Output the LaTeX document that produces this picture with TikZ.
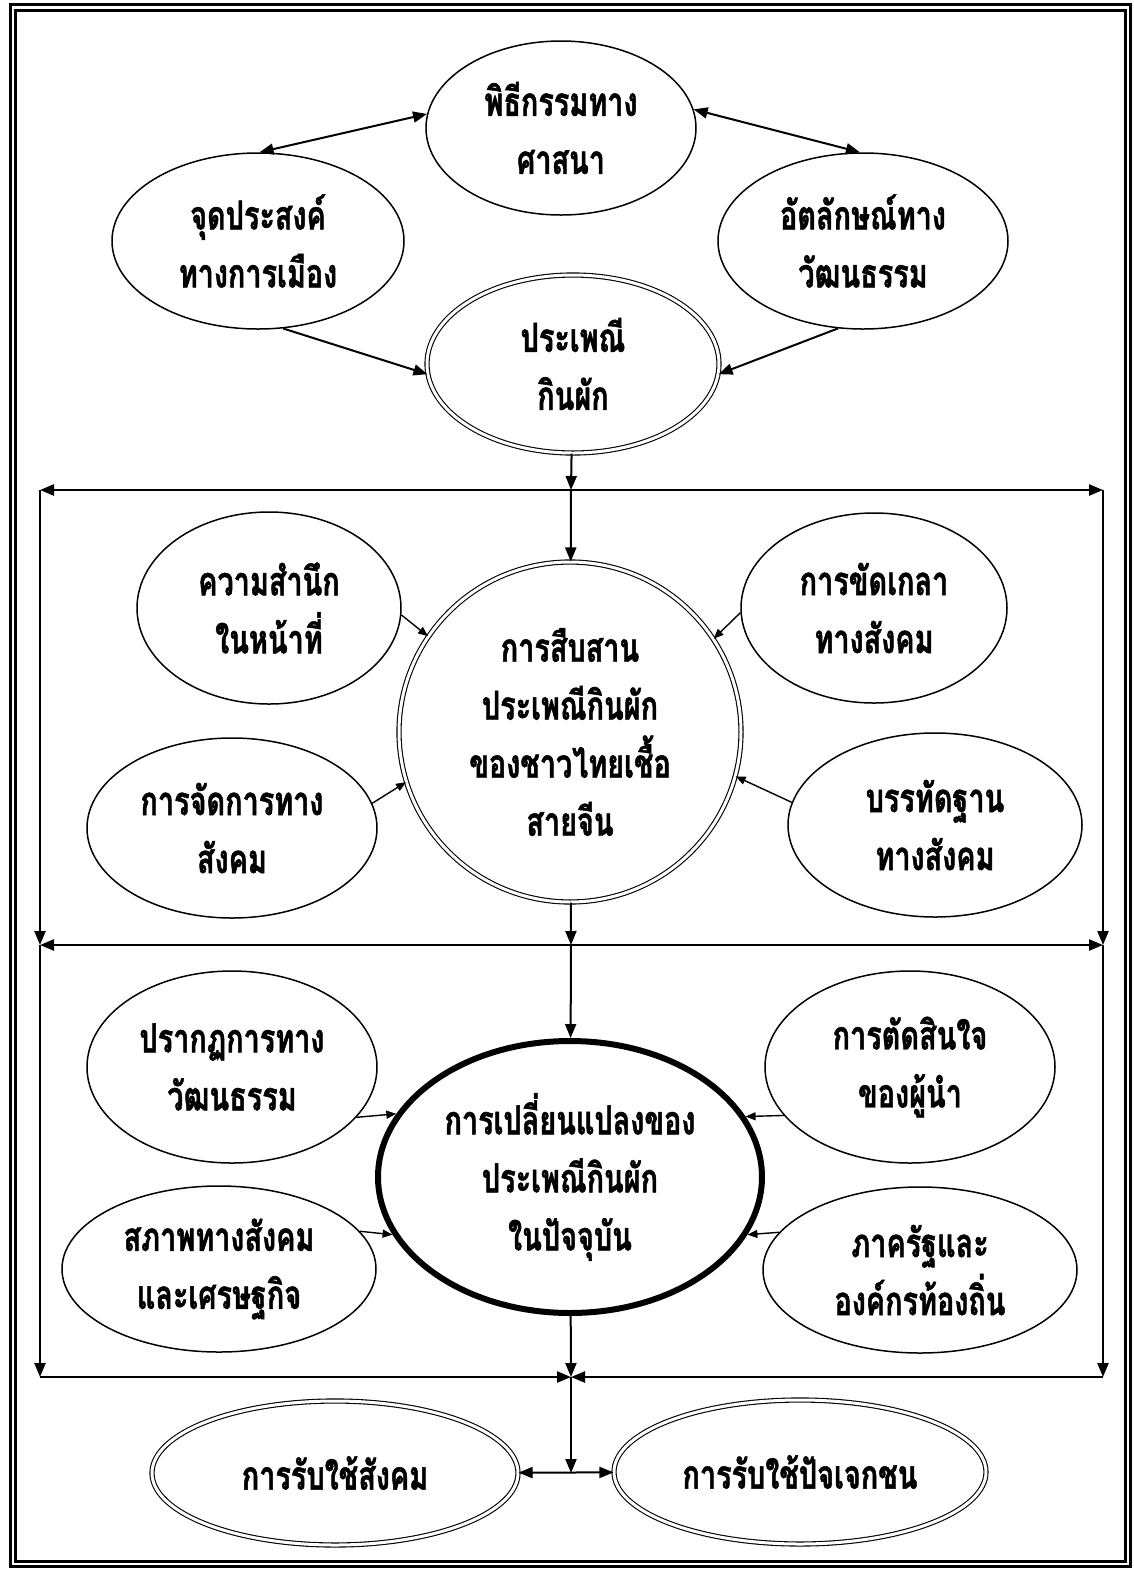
\documentclass[tikz,border=0pt]{standalone}
\usepackage{fontspec}
\newfontfamily\thaifont[Script=Thai, FakeStretch=0.72, BoldFeatures={FakeBold=1.2}]{Loma}
\usetikzlibrary{shapes.geometric}
\usetikzlibrary{arrows.meta}

\begin{document}
\begin{tikzpicture}[x=0.5pt, y=-0.5pt,
    bubble/.style={ellipse, draw, line width=0.75pt, inner sep=0pt, align=center, font=\thaifont\bfseries\fontsize{20}{29}\selectfont},
    twin/.style={bubble, double, double distance=1.5pt, line width=0.55pt},
    heavy/.style={bubble, line width=3pt},
    arr/.style={-{Triangle[length=7pt, width=5.5pt]}, line width=1pt},
    both/.style={{Triangle[length=7pt, width=5.5pt]}-{Triangle[length=7pt, width=5.5pt]}, line width=1pt},
    tip/.style={-{Triangle[length=5pt, width=4pt]}, line width=0.7pt}]
    \useasboundingbox (0,0) rectangle (1134,1570);
    \draw[line width=1.5pt] (10.5,4.5) rectangle (1130.5,1566.5);
    \draw[line width=1.5pt] (15.5,10.5) rectangle (1125.5,1561);

    \node[bubble, minimum width=135pt, minimum height=87pt] (t_0) at (561,128) {พิธีกรรมทาง\\ศาสนา};
    \node[bubble, minimum width=146pt, minimum height=88pt] (t_1) at (258,241) {จุดประสงค์\\ทางการเมือง};
    \node[bubble, minimum width=145pt, minimum height=88pt] (t_2) at (863,241) {อัตลักษณ์ทาง\\วัฒนธรรม};
    \node[twin, minimum width=146pt, minimum height=89pt] (t_3) at (573,364) {ประเพณี\\กินผัก};

    \node[twin, minimum width=171pt, minimum height=170pt] (m_0) at (570,732) {การสืบสาน\\ประเพณีกินผัก\\ของชาวไทยเชื้อ\\สายจีน};
    \node[bubble, minimum width=132pt, minimum height=96pt] (m_1) at (269,608) {ความสำนึก\\ในหน้าที่};
    \node[bubble, minimum width=133pt, minimum height=95pt] (m_2) at (874,608) {การขัดเกลา\\ทางสังคม};
    \node[bubble, minimum width=145pt, minimum height=90pt] (m_3) at (232,828) {การจัดการทาง\\สังคม};
    \node[bubble, minimum width=147pt, minimum height=92pt] (m_4) at (935,825) {บรรทัดฐาน\\ทางสังคม};

    \node[heavy, minimum width=192pt, minimum height=136pt] (b_0) at (570,1177) {การเปลี่ยนแปลงของ\\ประเพณีกินผัก\\ในปัจจุบัน};
    \node[bubble, minimum width=145pt, minimum height=96pt] (b_1) at (232,1067) {ปรากฏการทาง\\วัฒนธรรม};
    \node[bubble, minimum width=145pt, minimum height=96pt] (b_2) at (910,1067) {การตัดสินใจ\\ของผู้นำ};
    \node[bubble, minimum width=157pt, minimum height=83pt] (b_3) at (219,1269) {สภาพทางสังคม\\และเศรษฐกิจ};
    \node[bubble, minimum width=157pt, minimum height=83pt] (b_4) at (920,1270) {ภาครัฐและ\\องค์กรท้องถิ่น};

    \node[twin, minimum width=183pt, minimum height=72pt] (e_0) at (335,1473) {การรับใช้สังคม};
    \node[twin, minimum width=186pt, minimum height=72pt] (e_1) at (800,1472) {การรับใช้ปัจเจกชน};

    \coordinate (j_1) at (571,490);
    \coordinate (j_2) at (571,945);
    \coordinate (j_3) at (571,1377);
    \coordinate (j_4) at (571,1473);
    \coordinate (l_1) at (40,490);
    \coordinate (l_2) at (40,945);
    \coordinate (l_3) at (40,1377);
    \coordinate (r_1) at (1103,490);
    \coordinate (r_2) at (1103,945);
    \coordinate (r_3) at (1103,1377);

    \draw[both] (t_0.174) -- (t_1.89);
    \draw[both] (t_0.8) -- (t_2.92);
    \draw[arr] (t_1.-74) -- (t_3.184);
    \draw[arr] (t_2.254) -- (t_3.-4);
    \draw[arr] (t_3) -- (j_1);
    \draw[arr] (j_1) -- (m_0);
    \draw[both, line width=1.2pt] (l_1) -- (r_1);
    \draw[arr, line width=1.2pt] (l_1) -- (l_2);
    \draw[arr, line width=1.2pt] (r_1) -- (r_2);

    \draw[tip] (m_1.-3) -- (m_0.146);
    \draw[tip] (m_2.182) -- (m_0.33);
    \draw[tip] (m_3.10) -- (m_0.197);
    \draw[tip] (m_4.171) -- (m_0.-15);
    \draw[arr] (m_0) -- (j_2);
    \draw[arr] (j_2) -- (b_0);
    \draw[both, line width=1.2pt] (l_2) -- (r_2);
    \draw[arr, line width=1.2pt] (l_2) -- (l_3);
    \draw[arr, line width=1.2pt] (r_2) -- (r_3);

    \draw[tip] (b_1.-22) -- (b_0.160);
    \draw[tip] (b_3.15) -- (b_0.198);
    \draw[tip] (b_2.201) -- (b_0.19);
    \draw[tip] (b_4.165) -- (b_0.-18);
    \draw[arr] (b_0) -- (j_3);
    \draw[arr, line width=1.2pt] (l_3) -- (j_3);
    \draw[arr, line width=1.2pt] (r_3) -- (j_3);
    \draw[arr] (j_3) -- (j_4);
    \draw[both] (e_0) -- (e_1);
\end{tikzpicture}
\end{document}
